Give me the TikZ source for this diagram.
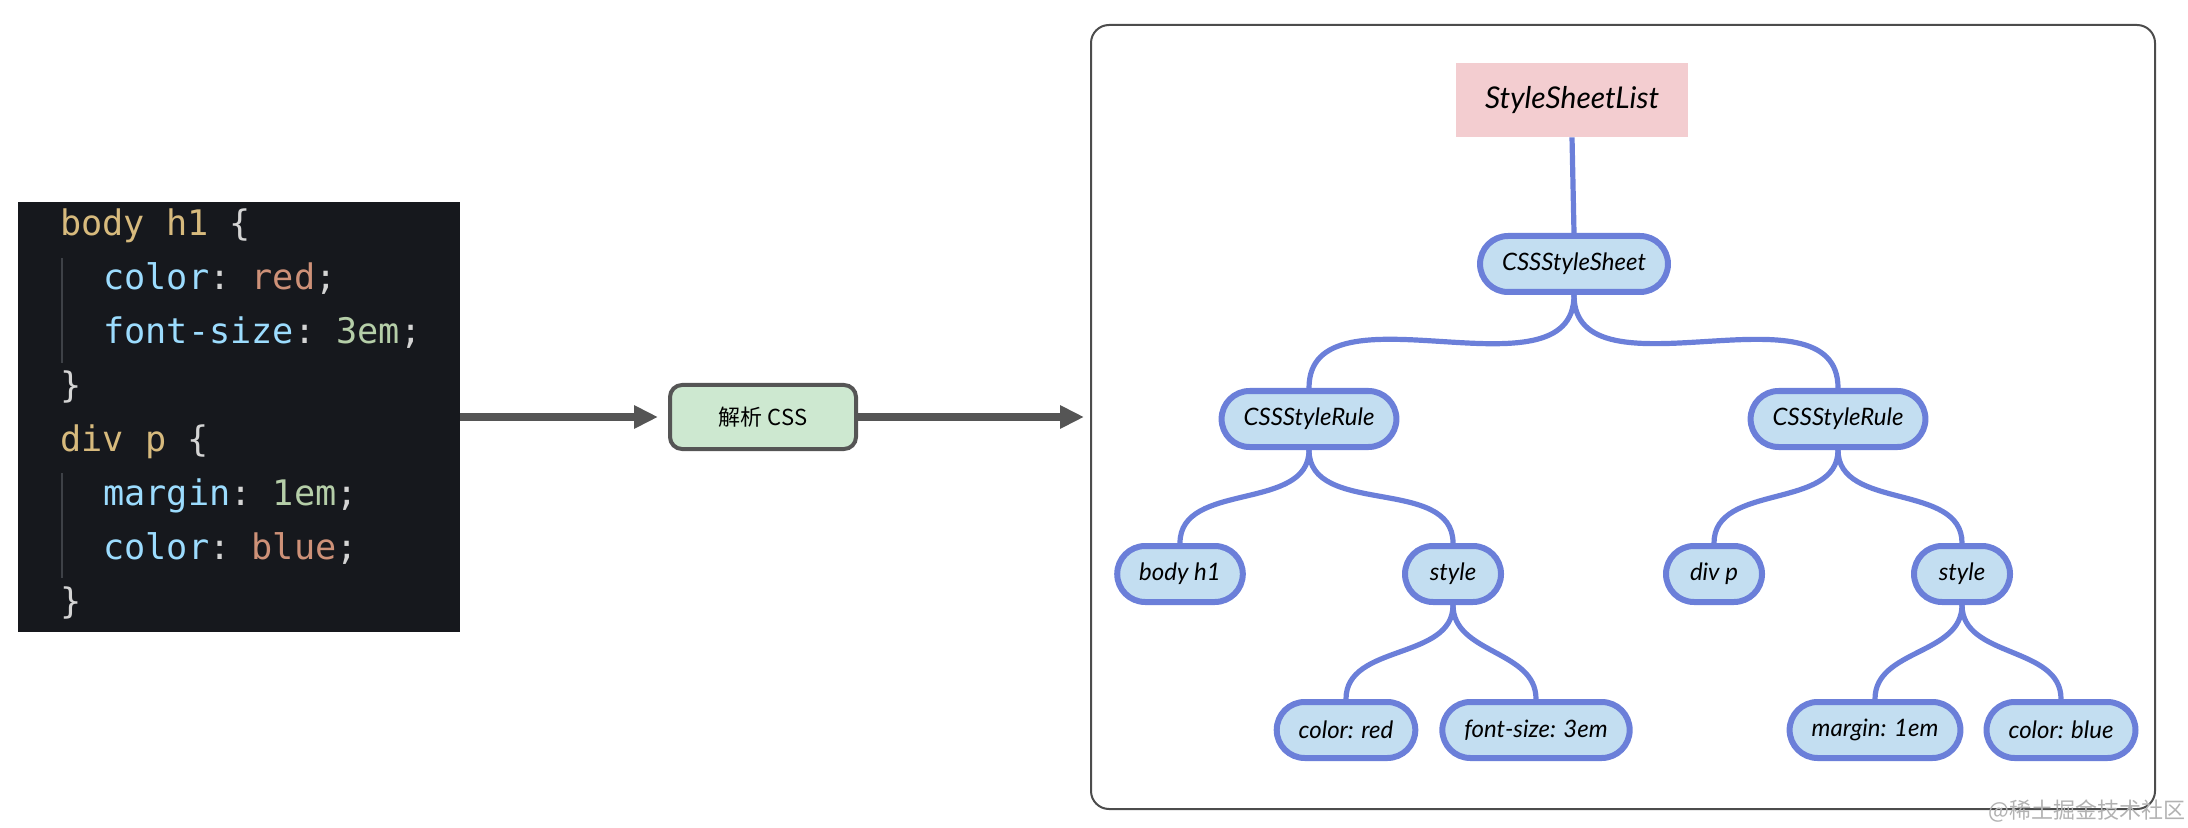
\documentclass[tikz,border=0pt]{standalone}
\usepackage{fontspec}
\setmainfont{Lato}
\setmonofont{DejaVu Sans Mono}
\newfontfamily\cjkfont{Noto Sans CJK SC}
\usepackage{xcolor}
\usetikzlibrary{arrows.meta, positioning}

\definecolor{codebg}{HTML}{16181D}
\definecolor{codesel}{HTML}{D7BA7D}
\definecolor{codeprop}{HTML}{9CDCFE}
\definecolor{codestr}{HTML}{CE9178}
\definecolor{codenum}{HTML}{B5CEA8}
\definecolor{codepun}{HTML}{D4D4D4}
\definecolor{codeguide}{HTML}{3E4147}
\definecolor{flowgray}{HTML}{555555}
\definecolor{parsefill}{HTML}{CDE8D0}
\definecolor{rootfill}{HTML}{F3CDD0}
\definecolor{treeblue}{HTML}{6B7FD9}
\definecolor{treefill}{HTML}{C3DEF1}

\newcommand\codefont{\ttfamily\fontsize{17.6}{20}\selectfont}
\newcommand\codesel[1]{\textcolor{codesel}{#1}}
\newcommand\codeprop[1]{\textcolor{codeprop}{#1}}
\newcommand\codestr[1]{\textcolor{codestr}{#1}}
\newcommand\codenum[1]{\textcolor{codenum}{#1}}
\newcommand\codepun[1]{\textcolor{codepun}{#1}}

\begin{document}
\begin{tikzpicture}[x=0.5pt, y=-0.5pt,
    codeline/.style={anchor=west, inner sep=0pt, font=\codefont, text height=0.75em, text depth=0.2em},
    flow/.style={-{Triangle[length=12pt,width=11pt]}, line width=3.8pt, flowgray},
    parse/.style={draw=flowgray, line width=2pt, fill=parsefill, rounded corners=6pt, minimum width=93pt, minimum height=32pt, font=\cjkfont\fontsize{11}{13}\selectfont},
    root/.style={fill=rootfill, minimum width=116pt, minimum height=37pt, font=\itshape\fontsize{15}{17}\selectfont},
    tnode/.style={draw=treeblue, line width=3pt, fill=treefill, rounded corners=14pt, minimum height=28pt, minimum width=48pt, inner xsep=11pt, font=\itshape\fontsize{12}{14}\selectfont},
    branch/.style={treeblue, line width=2.6pt}
  ]
  \useasboundingbox (0,0) rectangle (2188,828);

  % --- CSS SOURCE ---
  \node[fill=codebg, minimum width=221pt, minimum height=215pt, inner sep=0pt] (code) at (239,417) {};
  \draw[codeguide, line width=1pt] (62,258) -- (62,363);
  \draw[codeguide, line width=1pt] (62,473) -- (62,578);

  \node[codeline] (l1) at (60,230) {\codesel{body h1} \codepun{\{}};
  \node[codeline] (l2) at (103,284) {\codeprop{color}\codepun{:} \codestr{red}\codepun{;}};
  \node[codeline] (l3) at (103,338) {\codeprop{font-size}\codepun{:} \codenum{3em}\codepun{;}};
  \node[codeline] (l4) at (60,392) {\codepun{\}}};
  \node[codeline] (l5) at (60,446) {\codesel{div p} \codepun{\{}};
  \node[codeline] (l6) at (103,500) {\codeprop{margin}\codepun{:} \codenum{1em}\codepun{;}};
  \node[codeline] (l7) at (103,554) {\codeprop{color}\codepun{:} \codestr{blue}\codepun{;}};
  \node[codeline] (l8) at (60,608) {\codepun{\}}};

  % --- PARSER ---
  \node[parse] (parse) at (763,417) {解析 CSS};

  % --- CSSOM TREE ---
  \node[draw=black!70, line width=1pt, rounded corners=9pt, minimum width=532pt, minimum height=392pt] (frame) at (1623,417) {};

  \draw[flow, shorten >=5pt] (code.east) -- (parse.west);
  \draw[flow, shorten >=3pt] (parse.east) -- (frame.west);

  \node[root] (list) at (1572,100) {StyleSheetList};
  \node[tnode] (sheet) at (1574,264) {CSSStyleSheet};
  \node[tnode] (ruleL) at (1309,419) {CSSStyleRule};
  \node[tnode] (ruleR) at (1838,419) {CSSStyleRule};
  \node[tnode] (selL) at (1180,574) {body h1};
  \node[tnode] (styleL) at (1453,574) {style};
  \node[tnode] (selR) at (1714,574) {div p};
  \node[tnode] (styleR) at (1962,574) {style};
  \node[tnode] (colorL) at (1346,730) {color: red};
  \node[tnode] (fontL) at (1536,730) {font-size: 3em};
  \node[tnode] (marginR) at (1875,730) {margin: 1em};
  \node[tnode] (colorR) at (2061,730) {color: blue};

  \draw[branch] (list.south) -- (sheet.north);
  \draw[branch] (sheet.south) to[out=-90, in=90] (ruleL.north);
  \draw[branch] (sheet.south) to[out=-90, in=90] (ruleR.north);
  \draw[branch] (ruleL.south) to[out=-90, in=90] (selL.north);
  \draw[branch] (ruleL.south) to[out=-90, in=90] (styleL.north);
  \draw[branch] (ruleR.south) to[out=-90, in=90] (selR.north);
  \draw[branch] (ruleR.south) to[out=-90, in=90] (styleR.north);
  \draw[branch] (styleL.south) to[out=-90, in=90] (colorL.north);
  \draw[branch] (styleL.south) to[out=-90, in=90] (fontL.north);
  \draw[branch] (styleR.south) to[out=-90, in=90] (marginR.north);
  \draw[branch] (styleR.south) to[out=-90, in=90] (colorR.north);

  \node[anchor=east, inner sep=0pt, font=\cjkfont\fontsize{11}{13}\selectfont, text=black!30] (mark) at (2186,811) {@稀土掘金技术社区};
\end{tikzpicture}
\end{document}
